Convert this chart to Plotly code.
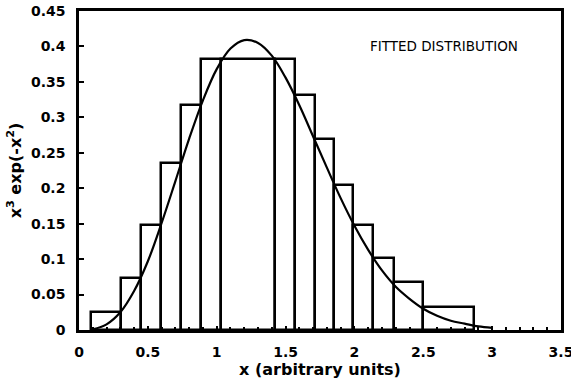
import plotly.graph_objects as go

# Histogram bin edges (x, arbitrary units) and bar heights
bin_edges = [0.09, 0.305, 0.451, 0.596, 0.742, 0.887, 1.033, 1.425, 1.571,
             1.716, 1.855, 1.993, 2.138, 2.284, 2.495, 2.865]
bar_heights = [0.026, 0.074, 0.148, 0.235, 0.318, 0.382, 0.382, 0.382, 0.331,
               0.269, 0.204, 0.148, 0.102, 0.068, 0.033]

# Fitted curve sampled from the chart
curve_x = [0.1, 0.2, 0.3, 0.4, 0.5, 0.6, 0.7, 0.8, 0.9, 1.0, 1.1, 1.2, 1.3, 1.4, 1.5,
           1.6, 1.7, 1.8, 1.9, 2.0, 2.1, 2.2, 2.3, 2.4, 2.5, 2.6, 2.7, 2.8, 2.9, 3.0]
curve_y = [0.001, 0.008, 0.025, 0.055, 0.097, 0.151, 0.210, 0.270, 0.324, 0.368,
           0.397, 0.409, 0.405, 0.387, 0.356, 0.317, 0.273, 0.229, 0.186, 0.147,
           0.113, 0.084, 0.061, 0.044, 0.030, 0.020, 0.013, 0.009, 0.005, 0.003]

x_ticks = [0, 0.5, 1, 1.5, 2, 2.5, 3, 3.5]
x_tick_labels = ["0", "0.5", "1", "1.5", "2", "2.5", "3", "3.5"]
y_ticks = [0, 0.05, 0.1, 0.15, 0.2, 0.25, 0.3, 0.35, 0.4, 0.45]
y_tick_labels = ["0", "0.05", "0.1", "0.15", "0.2", "0.25", "0.3", "0.35", "0.4", "0.45"]

centers = [(a + b) / 2 for a, b in zip(bin_edges[:-1], bin_edges[1:])]
widths = [b - a for a, b in zip(bin_edges[:-1], bin_edges[1:])]

FONT = "DejaVu Sans"

fig = go.Figure()
fig.add_trace(go.Bar(
    x=centers, y=bar_heights, width=widths,
    marker=dict(color="rgba(255,255,255,0)", line=dict(color="black", width=2.5)),
    showlegend=False, hoverinfo="skip",
))
fig.add_trace(go.Scatter(
    x=curve_x, y=curve_y, mode="lines",
    line=dict(color="black", width=2.2, shape="spline"),
    showlegend=False,
))

fig.update_layout(
    width=571, height=389,
    margin=dict(l=79, r=10, t=11, b=59, autoexpand=False),
    plot_bgcolor="white", paper_bgcolor="white",
    bargap=0,
    font=dict(family=FONT, color="black"),
    annotations=[dict(
        x=(444 - 79) / (561 - 79), y=0.40, xref="paper", yref="y", text="FITTED DISTRIBUTION",
        showarrow=False, xanchor="center", yanchor="middle",
        font=dict(family=FONT, size=13.5, color="black"),
    )],
)
fig.update_xaxes(
    range=[0, 3.5], tickvals=x_ticks, ticktext=x_tick_labels,
    ticks="inside", ticklen=4, tickwidth=1.5, tickcolor="black",
    minor=dict(dtick=0.1, ticks="inside", ticklen=3, tickwidth=1.5, tickcolor="black"),
    showline=True, linecolor="black", linewidth=2.5, mirror=True,
    showgrid=False, zeroline=False, automargin=False,
    tickfont=dict(family=FONT, size=14, color="black", weight="bold"),
    ticklabelstandoff=7, ticklabeloverflow="allow",
    title=dict(text="<b>x (arbitrary units)</b>", font=dict(family=FONT, size=16, color="black"), standoff=4),
)
fig.update_yaxes(
    range=[0, 0.45], tickvals=y_ticks, ticktext=y_tick_labels,
    ticks="inside", ticklen=5, tickwidth=1.5, tickcolor="black",
    showline=True, linecolor="black", linewidth=2.5, mirror=True,
    showgrid=False, zeroline=False, automargin=False,
    tickfont=dict(family=FONT, size=14, color="black", weight="bold"),
    ticklabelstandoff=8, ticklabeloverflow="allow",
    title=dict(text="<b>x<sup>3</sup> exp(-x<sup>2</sup>)</b>", font=dict(family=FONT, size=16, color="black"), standoff=6),
)

fig.write_html("out.html")
